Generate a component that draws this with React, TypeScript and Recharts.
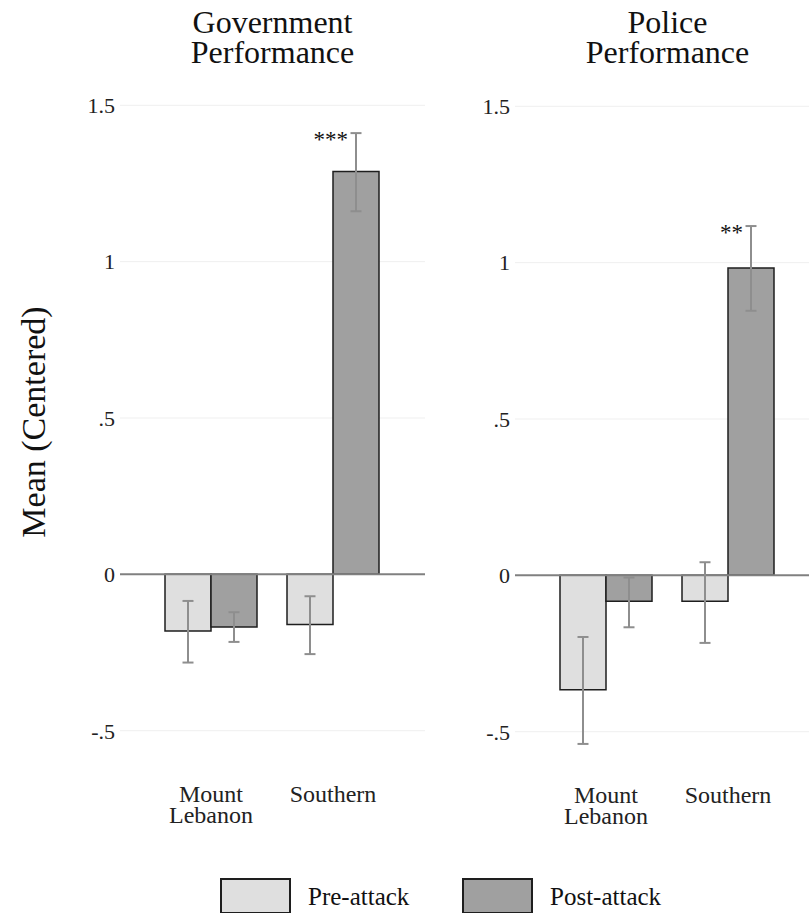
import React from "react";
import {
  Bar,
  BarChart,
  CartesianGrid,
  ErrorBar,
  LabelList,
  Legend,
  ReferenceLine,
  XAxis,
  YAxis,
} from "recharts";

const SERIF = "'Liberation Serif', 'Times New Roman', serif";

// Regions on the x axis
const regions = ["Mount Lebanon", "Southern"];

// Series names, in legend order
const seriesNames = ["Pre-attack", "Post-attack"];

// Government performance: means with 95% CI bounds
const govPre = [-0.181, -0.16];
const govPreLow = [-0.282, -0.255];
const govPreHigh = [-0.085, -0.07];
const govPost = [-0.168, 1.288];
const govPostLow = [-0.216, 1.161];
const govPostHigh = [-0.121, 1.411];
const govStars = ["", "***"];

// Police performance: means with 95% CI bounds
const polPre = [-0.366, -0.083];
const polPreLow = [-0.539, -0.216];
const polPreHigh = [-0.197, 0.042];
const polPost = [-0.083, 0.983];
const polPostLow = [-0.166, 0.846];
const polPostHigh = [-0.007, 1.117];
const polStars = ["", "**"];

const yTicks = [-0.5, 0, 0.5, 1, 1.5];

const PRE_FILL = "#dfdfdf";
const POST_FILL = "#a0a0a0";
const EDGE = "#1e1e1e";
const ERR = "#8e8e8e";

type Row = {
  region: string;
  pre: number;
  post: number;
  preErr: [number, number];
  postErr: [number, number];
  stars: string;
};

const buildRows = (
  pre: number[],
  preLo: number[],
  preHi: number[],
  post: number[],
  postLo: number[],
  postHi: number[],
  stars: string[]
): Row[] =>
  regions.map((region, i) => ({
    region,
    pre: pre[i],
    post: post[i],
    preErr: [pre[i] - preLo[i], preHi[i] - pre[i]],
    postErr: [post[i] - postLo[i], postHi[i] - post[i]],
    stars: stars[i],
  }));

const govRows = buildRows(govPre, govPreLow, govPreHigh, govPost, govPostLow, govPostHigh, govStars);
const polRows = buildRows(polPre, polPreLow, polPreHigh, polPost, polPostLow, polPostHigh, polStars);

// Stata-style tick labels: ".5" and "-.5"
const fmtTick = (v: number) => {
  if (v === 0) return "0";
  return String(v).replace(/^(-?)0\./, "$1.");
};

const RegionTick = (props: any) => {
  const { x, y, payload } = props;
  const words = String(payload.value).split(" ");
  return (
    <text x={x} y={y} textAnchor="middle" fontFamily={SERIF} fontSize={24} fill="#222">
      {words.map((w, i) => (
        <tspan key={w} x={x} dy={i === 0 ? 40 : 21}>
          {w}
        </tspan>
      ))}
    </text>
  );
};

// significance stars sit just left of the top of the CI whisker
const makeStarLabel = (rows: Row[]) => (props: any) => {
  const vb = props.viewBox || props;
  const { x, y, width, height } = vb;
  const row = rows[props.index];
  if (!row || !row.stars) return null;
  const ppu = Math.abs(height) / Math.abs(row.post);
  const whiskerTop = y - row.postErr[1] * ppu;
  return (
    <text
      x={x + width / 2 - 8}
      y={whiskerTop + 14}
      textAnchor="end"
      fontFamily={SERIF}
      fontSize={23}
      fill="#111"
    >
      {row.stars}
    </text>
  );
};

const renderLegend = (props: any) => {
  const payload = [...(props.payload || [])].sort(
    (a: any, b: any) => seriesNames.indexOf(a.value) - seriesNames.indexOf(b.value)
  );
  return (
    <svg width={809} height={40}>
      {payload.map((entry: any, i: number) => {
        const bx = 221 + i * 242;
        return (
          <g key={entry.value}>
            <rect x={bx} y={2} width={69} height={34} fill={entry.color} stroke={EDGE} strokeWidth={2} />
            <text x={bx + 87} y={28} fontFamily={SERIF} fontSize={25} fill="#111">
              {entry.value}
            </text>
          </g>
        );
      })}
    </svg>
  );
};

type PanelProps = {
  title: string[];
  rows: Row[];
  width: number;
  axisWidth: number;
  top: number;
  yLabel?: boolean;
  legend?: boolean;
};

function Panel({ title, rows, width, axisWidth, top, yLabel, legend }: PanelProps) {
  const plotWidth = 305;
  const plotHeight = 688;
  const xAxisHeight = 60;
  const height = 913;
  const titleX = axisWidth + plotWidth / 2;
  return (
    <BarChart
      width={width}
      height={height}
      data={rows}
      barGap={0}
      barSize={46}
      margin={{
        top,
        right: width - axisWidth - plotWidth,
        left: 0,
        bottom: height - top - plotHeight - xAxisHeight,
      }}
    >
      <CartesianGrid vertical={false} horizontalValues={yTicks} stroke="#efefef" strokeWidth={1} />
      <XAxis
        dataKey="region"
        axisLine={false}
        tickLine={false}
        tickSize={0}
        tickMargin={0}
        interval={0}
        height={xAxisHeight}
        padding={{ left: 30, right: 31 }}
        tick={<RegionTick />}
      />
      <YAxis
        type="number"
        domain={[-0.6, 1.6]}
        ticks={yTicks}
        width={axisWidth}
        axisLine={false}
        tickLine={false}
        tickSize={0}
        tickMargin={5}
        tickFormatter={fmtTick}
        tick={{ fontFamily: SERIF, fontSize: 22, fill: "#222" }}
      />
      <ReferenceLine y={0} stroke="#808080" strokeWidth={2} />
      <Bar dataKey="pre" name={seriesNames[0]} fill={PRE_FILL} stroke={EDGE} strokeWidth={1.5} isAnimationActive={false}>
        <ErrorBar dataKey="preErr" width={5.5} stroke={ERR} strokeWidth={2} />
      </Bar>
      <Bar dataKey="post" name={seriesNames[1]} fill={POST_FILL} stroke={EDGE} strokeWidth={1.5} isAnimationActive={false}>
        <ErrorBar dataKey="postErr" width={5.5} stroke={ERR} strokeWidth={2} />
        <LabelList dataKey="stars" content={makeStarLabel(rows)} />
      </Bar>
      {legend && (
        <Legend
          layout="horizontal"
          verticalAlign="middle"
          align="center"
          content={renderLegend}
          wrapperStyle={{ left: 0, top: 877, width: 809, height: 40 }}
        />
      )}
      {title.map((line, i) => (
        <text
          key={line}
          x={titleX}
          y={33 + i * 30}
          textAnchor="middle"
          fontFamily={SERIF}
          fontSize={32}
          fill="#111"
        >
          {line}
        </text>
      ))}
      {yLabel && (
        <text
          x={33}
          y={422}
          transform="rotate(-90, 33, 422)"
          textAnchor="middle"
          dy="0.35em"
          fontFamily={SERIF}
          fontSize={34}
          fill="#111"
        >
          Mean (Centered)
        </text>
      )}
    </BarChart>
  );
}

export default function App() {
  return (
    <div
      style={{
        position: "absolute",
        left: 0,
        top: 0,
        width: 809,
        height: 913,
        overflow: "hidden",
        background: "#fff",
      }}
    >
      <div style={{ position: "absolute", left: 430, top: 0 }}>
        <Panel title={["Police", "Performance"]} rows={polRows} width={390} axisWidth={85} top={75} />
      </div>
      <div style={{ position: "absolute", left: 0, top: 0 }}>
        <Panel
          title={["Government", "Performance"]}
          rows={govRows}
          width={430}
          axisWidth={120}
          top={74}
          yLabel
          legend
        />
      </div>
    </div>
  );
}
